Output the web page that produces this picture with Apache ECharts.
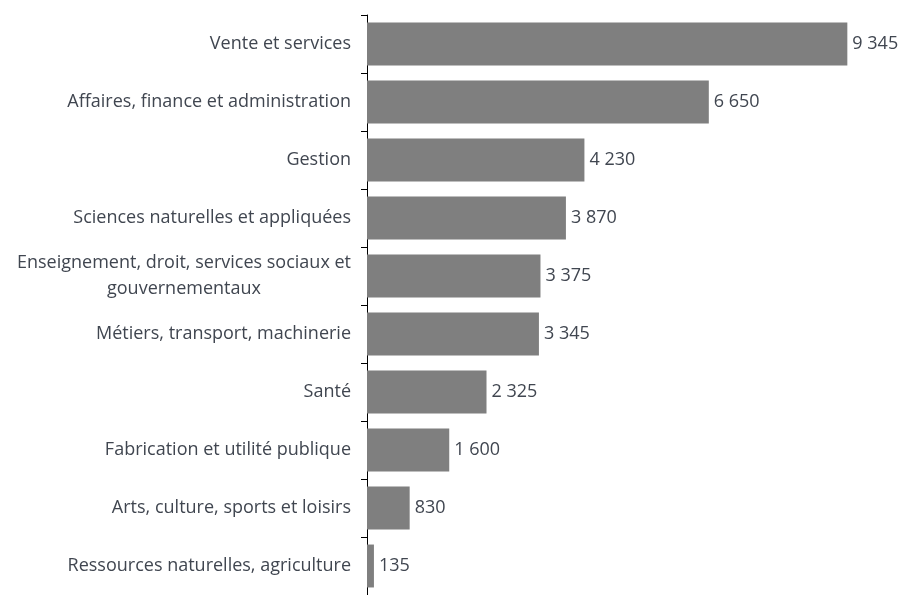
<!DOCTYPE html>
<html>
<head>
<meta charset="utf-8">
<script src="https://cdn.jsdelivr.net/npm/echarts@6/dist/echarts.min.js"></script>
<style>
  html, body { margin: 0; padding: 0; background: #fff; }
  #chartArea { width: 900px; height: 595px; }
</style>
</head>
<body>
<div id="chartArea"></div>
<script>
var categories = [
    'Vente et services',
    'Affaires, finance et administration',
    'Gestion',
    'Sciences naturelles et appliquées',
    'Enseignement, droit, services sociaux et\ngouvernementaux',
    'Métiers, transport, machinerie',
    'Santé',
    'Fabrication et utilité publique',
    'Arts, culture, sports et loisirs',
    'Ressources naturelles, agriculture'
];
var values = [9345, 6650, 4230, 3870, 3375, 3345, 2325, 1600, 830, 135];

var textColor = '#404650';

function fmtNumber(v) {
    return String(v).replace(/\B(?=(\d{3})+(?!\d))/g, ' ');
}

var chartDom = document.getElementById('chartArea');
var myChart = echarts.init(chartDom);
var option;

option = {
    animation: false,
    grid: {
        left: 367,
        right: 19,
        top: 15,
        bottom: 0,
        containLabel: false
    },
    xAxis: {
        type: 'value',
        min: 0,
        max: 10000,
        show: false
    },
    yAxis: {
        type: 'category',
        data: categories,
        inverse: true,
        axisLine: { show: true, lineStyle: { color: '#000', width: 1 } },
        axisTick: { show: true, length: 6, lineStyle: { color: '#000' } },
        axisLabel: {
            margin: 16,
            fontFamily: 'Open Sans',
            fontSize: 18,
            color: textColor,
            formatter: function (val) {
                return val.split('\n').map(function (l) { return '{c|' + l + '}'; }).join('\n');
            },
            rich: {
                c: {
                    align: 'center',
                    fontFamily: 'Open Sans',
                    fontSize: 18,
                    color: textColor,
                    lineHeight: 26
                }
            }
        }
    },
    series: [{
        type: 'bar',
        data: values,
        barCategoryGap: '26%',
        itemStyle: { color: '#7f7f7f' },
        label: {
            show: true,
            position: 'right',
            distance: 5,
            fontFamily: 'Open Sans',
            fontSize: 18,
            color: textColor,
            formatter: function (p) { return fmtNumber(p.value); }
        }
    }]
};

option && myChart.setOption(option);
</script>
</body>
</html>
